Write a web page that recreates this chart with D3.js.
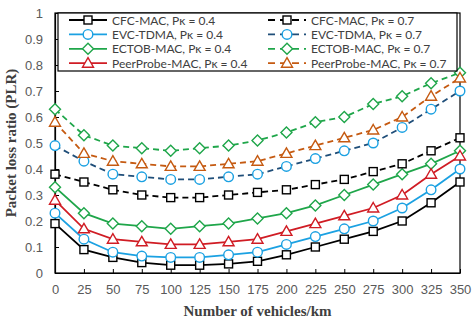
<!DOCTYPE html>
<html>
<head>
<meta charset="utf-8">
<script src="https://cdn.jsdelivr.net/npm/d3@7"></script>
<style>
  body { margin: 0; background: #fff; }
</style>
</head>
<body>
<div id="chart"></div>
<script>
// x categories (vehicles/km)
var density = [0, 25, 50, 75, 100, 125, 150, 175, 200, 225, 250, 275, 300, 325, 350];
var yTicks = [0, 0.1, 0.2, 0.3, 0.4, 0.5, 0.6, 0.7, 0.8, 0.9, 1];

// PLR values
var cfc04  = [0.19, 0.09, 0.06, 0.04, 0.03, 0.03, 0.035, 0.045, 0.07, 0.10, 0.13, 0.16, 0.20, 0.27, 0.35];
var evc04  = [0.23, 0.13, 0.08, 0.065, 0.06, 0.06, 0.07, 0.08, 0.11, 0.14, 0.17, 0.20, 0.25, 0.32, 0.40];
var ectob04 = [0.33, 0.23, 0.19, 0.18, 0.17, 0.18, 0.19, 0.21, 0.23, 0.26, 0.30, 0.34, 0.38, 0.42, 0.47];
var peer04 = [0.28, 0.17, 0.13, 0.12, 0.11, 0.11, 0.12, 0.13, 0.16, 0.19, 0.22, 0.25, 0.30, 0.38, 0.45];
var cfc07  = [0.38, 0.35, 0.32, 0.30, 0.29, 0.29, 0.30, 0.31, 0.32, 0.34, 0.36, 0.39, 0.42, 0.47, 0.52];
var evc07  = [0.49, 0.43, 0.38, 0.37, 0.36, 0.36, 0.37, 0.38, 0.41, 0.44, 0.47, 0.50, 0.56, 0.63, 0.70];
var ectob07 = [0.63, 0.53, 0.49, 0.48, 0.47, 0.48, 0.49, 0.51, 0.54, 0.58, 0.60, 0.65, 0.68, 0.73, 0.77];
var peer07 = [0.58, 0.46, 0.43, 0.42, 0.41, 0.41, 0.42, 0.43, 0.46, 0.49, 0.52, 0.55, 0.60, 0.68, 0.75];

var seriesNames = ["CFC-MAC, Pκ = 0.4", "EVC-TDMA, Pκ = 0.4", "ECTOB-MAC, Pκ = 0.4", "PeerProbe-MAC, Pκ = 0.4",
                   "CFC-MAC, Pκ = 0.7", "EVC-TDMA, Pκ = 0.7", "ECTOB-MAC, Pκ = 0.7", "PeerProbe-MAC, Pκ = 0.7"];

var series = [
  {name: seriesNames[0], values: cfc04,  line: "#000000", mark: "#000000", shape: "square",   dash: null},
  {name: seriesNames[1], values: evc04,  line: "#1ba1e2", mark: "#1ba1e2", shape: "circle",   dash: null},
  {name: seriesNames[2], values: ectob04, line: "#1fa64a", mark: "#1fa64a", shape: "diamond", dash: null},
  {name: seriesNames[3], values: peer04, line: "#d01c24", mark: "#d01c24", shape: "triangle", dash: null},
  {name: seriesNames[4], values: cfc07,  line: "#000000", mark: "#000000", shape: "square",   dash: "6,4"},
  {name: seriesNames[5], values: evc07,  line: "#1f4e79", mark: "#1ba1e2", shape: "circle",   dash: "6,4"},
  {name: seriesNames[6], values: ectob07, line: "#1fa64a", mark: "#1fa64a", shape: "diamond", dash: "6,4"},
  {name: seriesNames[7], values: peer07, line: "#c55a11", mark: "#c55a11", shape: "triangle", dash: "6,4"}
];

var W = 474, H = 325;
var margin = {top: 13, right: 14, bottom: 52, left: 55};
var width = W - margin.left - margin.right,
    height = H - margin.top - margin.bottom;

var svg = d3.select("#chart").append("svg")
    .attr("width", W)
    .attr("height", H)
    .style("font-family", "Lato, 'Open Sans', sans-serif");

var g = svg.append("g")
    .attr("transform", "translate(" + margin.left + "," + margin.top + ")");

var x = d3.scaleLinear().domain([0, 350]).range([0, width]);
var y = d3.scaleLinear().domain([0, 1]).range([height, 0]);

// plot frame
g.append("rect")
  .attr("width", width).attr("height", height)
  .attr("fill", "none").attr("stroke", "#000").attr("stroke-width", 1.2);

// x axis, ticks pointing inward
var xAxis = g.append("g")
  .attr("transform", "translate(0," + height + ")")
  .call(d3.axisBottom(x).tickValues(density).tickSizeInner(-4).tickSizeOuter(0).tickPadding(12));
xAxis.select(".domain").attr("stroke", "#000").attr("stroke-width", 1.2);
xAxis.selectAll("text").attr("fill", "#595959").style("font-size", "13px");

// y axis
var yAxis = g.append("g")
  .call(d3.axisLeft(y).tickValues(yTicks).tickSizeInner(-4).tickSizeOuter(0).tickPadding(12)
    .tickFormat(function(d) { return d === 0 ? "0" : d === 1 ? "1" : d3.format(".1f")(d); }));
yAxis.select(".domain").attr("stroke", "#000").attr("stroke-width", 1.2);
yAxis.selectAll("text").attr("fill", "#595959").style("font-size", "13px");

// axis titles
svg.append("text")
  .attr("x", margin.left + width / 2)
  .attr("y", 316)
  .attr("text-anchor", "middle")
  .style("font-family", "'Liberation Serif', 'DejaVu Serif', serif")
  .style("font-weight", "bold")
  .style("font-size", "15px")
  .attr("fill", "#404040")
  .text("Number of vehicles/km");

svg.append("text")
  .attr("transform", "translate(16," + (margin.top + height / 2) + ") rotate(-90)")
  .attr("text-anchor", "middle")
  .style("font-family", "'Liberation Serif', 'DejaVu Serif', serif")
  .style("font-weight", "bold")
  .style("font-size", "15px")
  .attr("fill", "#404040")
  .text("Packet loss ratio (PLR)");

function drawMarker(sel, s, cx, cy) {
  var m;
  if (s.shape === "square") {
    m = sel.append("rect").attr("x", cx - 4).attr("y", cy - 4).attr("width", 8).attr("height", 8);
  } else if (s.shape === "circle") {
    m = sel.append("circle").attr("cx", cx).attr("cy", cy).attr("r", 4.8);
  } else if (s.shape === "diamond") {
    m = sel.append("path").attr("d", "M" + cx + "," + (cy - 5.5) + "L" + (cx + 5.5) + "," + cy +
        "L" + cx + "," + (cy + 5.5) + "L" + (cx - 5.5) + "," + cy + "Z");
  } else {
    m = sel.append("path").attr("d", "M" + cx + "," + (cy - 5.5) + "L" + (cx + 5.5) + "," + (cy + 4) +
        "L" + (cx - 5.5) + "," + (cy + 4) + "Z");
  }
  m.attr("fill", "#fff").attr("stroke", s.mark).attr("stroke-width", 1.4);
}

var line = d3.line()
  .x(function(d, i) { return x(density[i]); })
  .y(function(d) { return y(d); });

// lines then markers
series.forEach(function(s) {
  g.append("path")
    .datum(s.values)
    .attr("d", line)
    .attr("fill", "none")
    .attr("stroke", s.line)
    .attr("stroke-width", 1.8)
    .attr("stroke-dasharray", s.dash);
  var mg = g.append("g");
  s.values.forEach(function(v, i) { drawMarker(mg, s, x(density[i]), y(v)); });
});

// legend
var lg = svg.append("g");
lg.append("rect")
  .attr("x", 58).attr("y", 13).attr("width", 399).attr("height", 58)
  .attr("fill", "#fff").attr("stroke", "#000").attr("stroke-width", 1.2);

series.forEach(function(s, i) {
  var col = Math.floor(i / 4), row = i % 4;
  var x0 = col === 0 ? 69 : 268;
  var yy = 20 + row * 14.4;
  lg.append("line")
    .attr("x1", x0).attr("x2", x0 + 38).attr("y1", yy).attr("y2", yy)
    .attr("stroke", s.line).attr("stroke-width", 1.8)
    .attr("stroke-dasharray", s.dash ? "7,5" : null);
  drawMarker(lg, s, x0 + 19, yy);
  lg.append("text")
    .attr("x", x0 + 43).attr("y", yy + 4.5)
    .style("font-size", "12px")
    .attr("fill", "#404040")
    .text(s.name);
});
</script>
</body>
</html>
